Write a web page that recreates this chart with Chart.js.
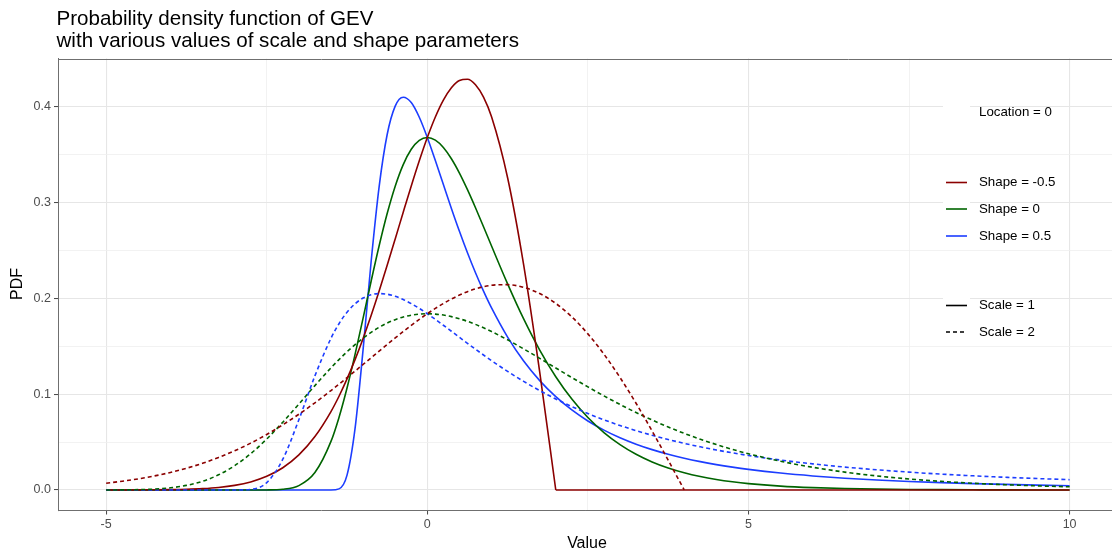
<!DOCTYPE html>
<html>
<head>
<meta charset="utf-8">
<script src="https://cdn.jsdelivr.net/npm/chart.js@4.4.1/dist/chart.umd.min.js"></script>
<style>
html,body{margin:0;padding:0;background:#ffffff;}
#wrap{position:relative;width:1112px;height:557px;overflow:hidden;}
canvas{display:block;}
</style>
</head>
<body>
<div id="wrap"><canvas id="c" width="1112" height="557"></canvas></div>
<script>
// ---- data ----
const xValues = [-5,-4.75,-4.5,-4.25,-4,-3.75,-3.5,-3.25,-3,-2.75,-2.5,-2.25,-2,-1.75,
  -1.5,-1.375,-1.25,-1.125,-1,-0.875,-0.75,-0.625,-0.5,-0.375,-0.25,-0.125,0,0.125,0.25,0.375,0.5,0.625,0.75,0.875,1,
  1.25,1.5,1.75,2,2.25,2.5,2.75,3,3.25,3.5,3.75,4,4.25,4.5,4.75,5,
  5.5,6,6.5,7,7.5,8,8.5,9,9.5,10];

const shapeNeg05Scale1 = [0.00002,0.00004,0.00008,0.00018,0.00037,0.00074,0.00143,0.00267,0.00483,0.00844,0.01425,0.02324,0.03663,0.05574,
  0.08185,0.09784,0.11589,0.13603,0.15810,0.18204,0.20757,0.23444,0.26201,0.28990,0.31733,0.34359,0.36788,0.38929,0.40691,0.41986,0.42733,0.42857,0.42289,0.40993,0.38940,
  0.32581,0.23485,0.12306,0,0,0,0,0,0,0,0,0,0,0,0,0,
  0,0,0,0,0,0,0,0,0,0];

const shape0Scale1 = [0,0,0,0,0,0,0,0,0,0,0.00006,0.00072,0.00457,0.01823,
  0.05070,0.07576,0.10642,0.14154,0.17937,0.21786,0.25487,0.28849,0.31705,0.33961,0.35557,0.36490,0.36788,0.36513,0.35744,0.34566,0.33071,0.31341,0.29454,0.27476,0.25465,
  0.21513,0.17851,0.14605,0.11820,0.09486,0.07562,0.05997,0.04737,0.03730,0.02930,0.02297,0.01798,0.01406,0.01099,0.00858,0.00669,
  0.00407,0.00247,0.00150,0.00091,0.00055,0.00034,0.00020,0.00012,0.00007,0.00005];

const shape05Scale1 = [0,0,0,0,0,0,0,0,0,0,0,0,0,0,
  0.00001,0.00117,0.01548,0.06427,0.14653,0.23824,0.31664,0.37098,0.40062,0.40989,0.40437,0.38899,0.36788,0.34381,0.31873,0.29384,0.26997,0.24751,0.22667,0.20750,0.18998,
  0.15957,0.13461,0.11415,0.09735,0.08351,0.07205,0.06252,0.05454,0.04782,0.04213,0.03729,0.03314,0.02958,0.02650,0.02383,0.02150,
  0.01766,0.01468,0.01233,0.01045,0.00893,0.00769,0.00666,0.00582,0.00510,0.00450];

const shapeNeg05Scale2 = [0.00712,0.00914,0.01162,0.01465,0.01832,0.02269,0.02787,0.03392,0.04093,0.04892,0.05795,0.06802,0.07905,0.09102,
  0.10379,0.11043,0.11722,0.12408,0.13101,0.13797,0.14495,0.15184,0.15867,0.16532,0.17180,0.17802,0.18394,0.18949,0.19465,0.19933,0.20346,0.20701,0.20993,0.21217,0.21367,
  0.21429,0.21145,0.20497,0.19470,0.18064,0.16291,0.14171,0.11743,0.09051,0.06153,0.03113,0,null,null,null,null,
  null,null,null,null,null,null,null,null,null,null];

const shape0Scale2 = [0.00003,0.00012,0.00036,0.00097,0.00228,0.00480,0.00912,0.01582,0.02535,0.03788,0.05321,0.07077,0.08969,0.10893,
  0.12744,0.13609,0.14425,0.15173,0.15853,0.16456,0.16981,0.17423,0.17779,0.18053,0.18245,0.18357,0.18394,0.18358,0.18257,0.18093,0.17872,0.17600,0.17283,0.16926,0.16536,
  0.15671,0.14727,0.13738,0.12733,0.11733,0.10757,0.09818,0.08926,0.08086,0.07303,0.06578,0.05910,0.05299,0.04743,0.04238,0.03781,
  0.02999,0.02369,0.01865,0.01465,0.01149,0.00899,0.00703,0.00550,0.00429,0.00335];

const shape05Scale2 = [0,0,0,0,0,0,0,0,0,0.00059,0.00774,0.03214,0.07327,0.11912,
  0.15832,0.17353,0.18549,0.19434,0.20031,0.20373,0.20495,0.20431,0.20219,0.19881,0.19450,0.18949,0.18394,0.17804,0.17191,0.16565,0.15937,0.15309,0.14692,0.14088,0.13499,
  0.12376,0.11334,0.10375,0.09499,0.08702,0.07979,0.07324,0.06731,0.06194,0.05708,0.05267,0.04868,0.04505,0.04176,0.03876,0.03603,
  0.03126,0.02727,0.02391,0.02107,0.01865,0.01657,0.01479,0.01325,0.01192,0.01075];

const xTickValues = [-5,-2.5,0,2.5,5,7.5,10];
const xTickLabels = ['-5','','0','','5','','10'];
const yTickValues = [0,0.05,0.1,0.15,0.2,0.25,0.3,0.35,0.4];
const yTickLabels = ['0.0','','0.1','','0.2','','0.3','','0.4'];

const shapeLabels = ['Shape = -0.5','Shape = 0','Shape = 0.5'];
const scaleLabels = ['Scale = 1','Scale = 2'];
const locationLabel = 'Location = 0';
const titleLines = ['Probability density function of GEV','with various values of scale and shape parameters'];
const xTitle = 'Value';
const yTitle = 'PDF';

// ---- styles ----
const RED = '#8b0000', GREEN = '#006400', BLUE = '#1c3dff';
const FONT = '"Liberation Sans", Arial, Helvetica, sans-serif';
const DASH = [4, 3];
const LW = 1.6;

function pts(ys, from, to) {
  const out = [];
  for (let i = 0; i < xValues.length; i++) {
    const x = xValues[i];
    if (from !== undefined && x < from) continue;
    if (to !== undefined && x > to) continue;
    out.push({x: x, y: ys[i]});
  }
  return out;
}
// upper bound of the shape=-0.5, scale=1 curve: first zero after the peak
function upperBound(ys) {
  let peak = 0;
  for (let i = 1; i < ys.length; i++) if (ys[i] > ys[peak]) peak = i;
  for (let i = peak; i < ys.length; i++) if (ys[i] === 0) return xValues[i];
  return xValues[xValues.length - 1];
}
const bA = upperBound(shapeNeg05Scale1);

function ds(label, data, color, dashed) {
  return {label, data, borderColor: color, borderWidth: LW, borderDash: dashed ? DASH : [],
    pointRadius: 0, fill: false, cubicInterpolationMode: 'monotone', spanGaps: false};
}

const datasets = [
  ds('Shape=-0.5 Scale=2', pts(shapeNeg05Scale2), RED, true),
  ds('Shape=0 Scale=2', pts(shape0Scale2), GREEN, true),
  ds('Shape=0.5 Scale=2', pts(shape05Scale2), BLUE, true),
  ds('Shape=-0.5 Scale=1', pts(shapeNeg05Scale1, undefined, bA), RED, false),
  ds('Shape=-0.5 Scale=1 (tail)', pts(shapeNeg05Scale1, bA, undefined), RED, false),
  ds('Shape=0 Scale=1', pts(shape0Scale1), GREEN, false),
  ds('Shape=0.5 Scale=1', pts(shape05Scale1), BLUE, false)
];

const KEY_X0 = 946, KEY_X1 = 967, TEXT_X = 979;
const shapeRows = [182.5, 209, 236];
const scaleRows = [305.5, 332];
const locRow = 112;

const decor = {
  id: 'decor',
  beforeDatasetsDraw(chart) {
    const c = chart.ctx;
    c.save();
    c.fillStyle = '#ffffff';
    c.fillRect(943, 99, 27, 26);
    c.fillRect(943, 169, 27, 80);
    c.fillRect(943, 292, 27, 53);
    c.restore();
  },
  afterDraw(chart) {
    const c = chart.ctx, a = chart.chartArea;
    c.save();
    // top panel border
    c.strokeStyle = '#6f6f6f'; c.lineWidth = 1;
    c.beginPath(); c.moveTo(a.left, Math.round(a.top) + 0.5); c.lineTo(a.right, Math.round(a.top) + 0.5); c.stroke();
    // title
    c.fillStyle = '#000'; c.font = '20.6px ' + FONT; c.textAlign = 'left'; c.textBaseline = 'alphabetic';
    c.fillText(titleLines[0], 56.5, 25);
    c.fillText(titleLines[1], 56.5, 47);
    // axis titles
    c.font = '16px ' + FONT; c.textAlign = 'center'; c.textBaseline = 'middle';
    c.fillText(xTitle, 587, 544);
    c.save(); c.translate(17.5, 284); c.rotate(-Math.PI / 2); c.fillText(yTitle, 0, 0); c.restore();
    // legend
    c.font = '13.3px ' + FONT; c.textAlign = 'left'; c.textBaseline = 'middle'; c.fillStyle = '#000';
    c.fillText(locationLabel, TEXT_X, locRow);
    const cols = [RED, GREEN, BLUE];
    shapeRows.forEach((y, i) => {
      c.strokeStyle = cols[i]; c.lineWidth = LW; c.setLineDash([]);
      c.beginPath(); c.moveTo(KEY_X0, y); c.lineTo(KEY_X1, y); c.stroke();
      c.fillText(shapeLabels[i], TEXT_X, y);
    });
    scaleRows.forEach((y, i) => {
      c.strokeStyle = '#000'; c.lineWidth = LW; c.setLineDash(i === 1 ? DASH : []);
      c.beginPath(); c.moveTo(KEY_X0, y); c.lineTo(KEY_X1, y); c.stroke();
      c.setLineDash([]);
      c.fillText(scaleLabels[i], TEXT_X, y);
    });
    c.restore();
  }
};

const majorColor = '#e6e6e6', minorColor = '#efefef';

new Chart(document.getElementById('c'), {
  type: 'line',
  data: { datasets },
  options: {
    responsive: false, animation: false, devicePixelRatio: 1,
    layout: { padding: { top: 58.5, left: 0, right: 0, bottom: 0 } },
    plugins: { legend: { display: false }, title: { display: false }, tooltip: { enabled: false } },
    scales: {
      x: {
        type: 'linear', min: -5.75, max: 10.66,
        afterBuildTicks: s => { s.ticks = xTickValues.map(v => ({ value: v })); },
        afterFit: s => { s.height = 46.5; },
        ticks: { callback: (v, i) => xTickLabels[i], color: '#4d4d4d', font: { family: FONT, size: 12.5 }, padding: 3, maxRotation: 0, autoSkip: false },
        grid: {
          color: ctx => (ctx.index % 2 === 0 ? majorColor : minorColor),
          lineWidth: ctx => (ctx.index % 2 === 0 ? 1.1 : 0.8),
          tickLength: 4, tickWidth: 1,
          tickColor: ctx => (ctx.index % 2 === 0 ? '#444' : 'rgba(0,0,0,0)')
        },
        border: { display: true, color: '#6f6f6f', width: 1 }
      },
      y: {
        type: 'linear', min: -0.0214, max: 0.4503,
        afterBuildTicks: s => { s.ticks = yTickValues.map(v => ({ value: v })); },
        afterFit: s => { s.width = 58; },
        ticks: { callback: (v, i) => yTickLabels[i], color: '#4d4d4d', font: { family: FONT, size: 12.5 }, padding: 3, autoSkip: false },
        grid: {
          color: ctx => (ctx.index % 2 === 0 ? majorColor : minorColor),
          lineWidth: ctx => (ctx.index % 2 === 0 ? 1.1 : 0.8),
          tickLength: 4, tickWidth: 1,
          tickColor: ctx => (ctx.index % 2 === 0 ? '#444' : 'rgba(0,0,0,0)')
        },
        border: { display: true, color: '#6f6f6f', width: 1 }
      }
    }
  },
  plugins: [decor]
});
</script>
</body>
</html>
